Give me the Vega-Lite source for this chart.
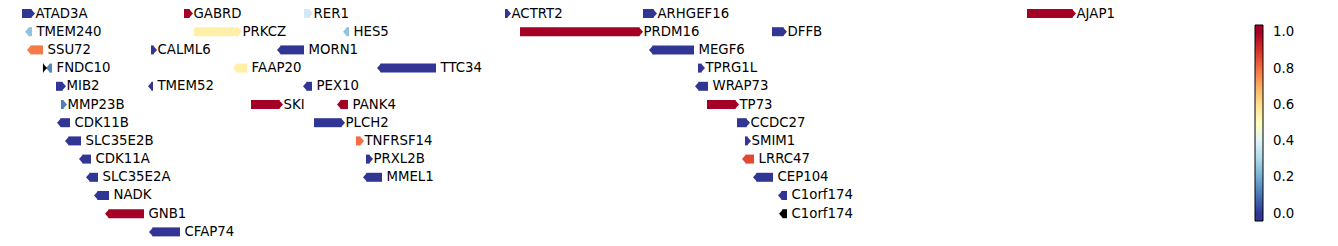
{
  "$schema": "https://vega.github.io/schema/vega-lite/v6.json",
  "width": 1338,
  "height": 246,
  "padding": 0,
  "autosize": {"type": "none"},
  "background": "white",
  "config": {"view": {"stroke": null}, "font": "DejaVu Sans"},
  "data": {
    "values": [
      {"name": "ATAD3A", "start": 22, "end": 35, "strand": "+", "row": 0, "v": 0},
      {"name": "GABRD", "start": 184, "end": 193, "strand": "+", "row": 0, "v": 1.0},
      {"name": "RER1", "start": 304, "end": 313, "strand": "+", "row": 0, "v": 0.37},
      {"name": "ACTRT2", "start": 505, "end": 511, "strand": "+", "row": 0, "v": 0},
      {"name": "ARHGEF16", "start": 643, "end": 657, "strand": "+", "row": 0, "v": 0},
      {"name": "AJAP1", "start": 1027, "end": 1076, "strand": "+", "row": 0, "v": 1.0},
      {"name": "TMEM240", "start": 25, "end": 32, "strand": "-", "row": 1, "v": 0.25},
      {"name": "PRKCZ", "start": 194, "end": 242, "strand": "+", "row": 1, "v": 0.55},
      {"name": "HES5", "start": 343, "end": 349, "strand": "-", "row": 1, "v": 0.25},
      {"name": "PRDM16", "start": 520, "end": 643, "strand": "+", "row": 1, "v": 1.0},
      {"name": "DFFB", "start": 772, "end": 787, "strand": "+", "row": 1, "v": 0},
      {"name": "SSU72", "start": 27, "end": 43, "strand": "-", "row": 2, "v": 0.78},
      {"name": "CALML6", "start": 151, "end": 157, "strand": "+", "row": 2, "v": 0},
      {"name": "MORN1", "start": 277, "end": 304, "strand": "-", "row": 2, "v": 0},
      {"name": "MEGF6", "start": 649, "end": 694, "strand": "-", "row": 2, "v": 0},
      {"name": null, "start": 43, "end": 47, "strand": "+", "row": 3, "v": null},
      {"name": "FNDC10", "start": 46, "end": 52, "strand": "-", "row": 3, "v": 0.13},
      {"name": "FAAP20", "start": 233, "end": 247, "strand": "-", "row": 3, "v": 0.55},
      {"name": "TTC34", "start": 377, "end": 436, "strand": "-", "row": 3, "v": 0},
      {"name": "TPRG1L", "start": 698, "end": 705, "strand": "+", "row": 3, "v": 0},
      {"name": "MIB2", "start": 56, "end": 66, "strand": "+", "row": 4, "v": 0},
      {"name": "TMEM52", "start": 148, "end": 153, "strand": "-", "row": 4, "v": 0},
      {"name": "PEX10", "start": 303, "end": 312, "strand": "-", "row": 4, "v": 0},
      {"name": "WRAP73", "start": 695, "end": 708, "strand": "-", "row": 4, "v": 0},
      {"name": "MMP23B", "start": 61, "end": 67, "strand": "+", "row": 5, "v": 0.12},
      {"name": "SKI", "start": 251, "end": 283, "strand": "+", "row": 5, "v": 1.0},
      {"name": "PANK4", "start": 337, "end": 348, "strand": "-", "row": 5, "v": 1.0},
      {"name": "TP73", "start": 707, "end": 739, "strand": "+", "row": 5, "v": 1.0},
      {"name": "CDK11B", "start": 57, "end": 70, "strand": "-", "row": 6, "v": 0},
      {"name": "PLCH2", "start": 314, "end": 345, "strand": "+", "row": 6, "v": 0},
      {"name": "CCDC27", "start": 737, "end": 750, "strand": "+", "row": 6, "v": 0},
      {"name": "SLC35E2B", "start": 65, "end": 81, "strand": "-", "row": 7, "v": 0},
      {"name": "TNFRSF14", "start": 356, "end": 364, "strand": "+", "row": 7, "v": 0.8},
      {"name": "SMIM1", "start": 745, "end": 751, "strand": "+", "row": 7, "v": 0},
      {"name": "CDK11A", "start": 79, "end": 91, "strand": "-", "row": 8, "v": 0},
      {"name": "PRXL2B", "start": 366, "end": 373, "strand": "+", "row": 8, "v": 0},
      {"name": "LRRC47", "start": 742, "end": 754, "strand": "-", "row": 8, "v": 0.86},
      {"name": "SLC35E2A", "start": 86, "end": 98, "strand": "-", "row": 9, "v": 0},
      {"name": "MMEL1", "start": 363, "end": 382, "strand": "-", "row": 9, "v": 0},
      {"name": "CEP104", "start": 753, "end": 773, "strand": "-", "row": 9, "v": 0},
      {"name": "NADK", "start": 94, "end": 109, "strand": "-", "row": 10, "v": 0},
      {"name": "C1orf174", "start": 778, "end": 787, "strand": "-", "row": 10, "v": 0},
      {"name": "GNB1", "start": 105, "end": 144, "strand": "-", "row": 11, "v": 1.0},
      {"name": "C1orf174", "start": 779, "end": 787, "strand": "-", "row": 11, "v": null},
      {"name": "CFAP74", "start": 149, "end": 180, "strand": "-", "row": 12, "v": 0}
    ]
  },
  "encoding": {
    "y": {"field": "row", "type": "quantitative", "scale": {"domain": [-0.742, 12.775], "reverse": true, "nice": false, "zero": false, "padding": 0}, "axis": null}
  },
  "layer": [
    {
      "transform": [{"filter": "datum.strand === '+' && datum.v != null"}],
      "mark": {"type": "bar", "x2Offset": -3.5, "size": 9, "orient": "horizontal"},
      "encoding": {
        "x": {"field": "start", "type": "quantitative", "scale": {"domain": [0, 1338], "nice": false, "zero": false, "padding": 0}, "axis": null},
        "x2": {"field": "end"},
        "color": {
          "field": "v",
          "type": "quantitative",
          "scale": {
            "domain": [-0.04, 0, 0.1, 0.2, 0.3, 0.4, 0.5, 0.6, 0.7, 0.8, 0.9, 1.0, 1.04],
            "range": ["#313695", "#313695", "#4575b4", "#74add1", "#abd9e9", "#e0f3f8", "#ffffbf", "#fee090", "#fdae61", "#f46d43", "#d73027", "#a50026", "#a50026"],
            "interpolate": "rgb",
            "clamp": true
          },
          "legend": {
            "type": "gradient",
            "orient": "none",
            "legendX": 1255,
            "legendY": 25,
            "padding": 0,
            "title": null,
            "direction": "vertical",
            "gradientLength": 196,
            "gradientThickness": 8,
            "gradientStrokeColor": "black",
            "gradientStrokeWidth": 1,
            "values": [0, 0.2, 0.4, 0.6, 0.8, 1.0],
            "format": ".1f",
            "labelFontSize": 13.3,
            "labelColor": "black",
            "labelFont": "DejaVu Sans",
            "labelOffset": 10,
            "labelOverlap": false
          }
        }
      }
    },
    {
      "transform": [{"filter": "datum.strand === '-' && datum.v != null"}],
      "mark": {"type": "bar", "xOffset": 3.5, "size": 9, "orient": "horizontal"},
      "encoding": {
        "x": {"field": "start", "type": "quantitative", "scale": {"domain": [0, 1338], "nice": false, "zero": false, "padding": 0}, "axis": null},
        "x2": {"field": "end"},
        "color": {"field": "v", "type": "quantitative"}
      }
    },
    {
      "transform": [{"filter": "datum.strand === '+' && datum.v != null"}],
      "mark": {"type": "point", "shape": "M0,0L-0.9,-1L-0.9,1Z", "filled": true, "opacity": 1, "strokeWidth": 0, "size": 81},
      "encoding": {
        "x": {"field": "end", "type": "quantitative", "scale": {"domain": [0, 1338], "nice": false, "zero": false, "padding": 0}, "axis": null},
        "color": {"field": "v", "type": "quantitative"}
      }
    },
    {
      "transform": [{"filter": "datum.strand === '-' && datum.v != null"}],
      "mark": {"type": "point", "shape": "M0,0L0.9,-1L0.9,1Z", "filled": true, "opacity": 1, "strokeWidth": 0, "size": 81},
      "encoding": {
        "x": {"field": "start", "type": "quantitative", "scale": {"domain": [0, 1338], "nice": false, "zero": false, "padding": 0}, "axis": null},
        "color": {"field": "v", "type": "quantitative"}
      }
    },
    {
      "transform": [{"filter": "datum.strand === '+' && datum.v == null"}],
      "mark": {"type": "bar", "x2Offset": -3.5, "size": 9, "orient": "horizontal", "color": "black"},
      "encoding": {
        "x": {"field": "start", "type": "quantitative", "scale": {"domain": [0, 1338], "nice": false, "zero": false, "padding": 0}, "axis": null},
        "x2": {"field": "end"}
      }
    },
    {
      "transform": [{"filter": "datum.strand === '-' && datum.v == null"}],
      "mark": {"type": "bar", "xOffset": 3.5, "size": 9, "orient": "horizontal", "color": "black"},
      "encoding": {
        "x": {"field": "start", "type": "quantitative", "scale": {"domain": [0, 1338], "nice": false, "zero": false, "padding": 0}, "axis": null},
        "x2": {"field": "end"}
      }
    },
    {
      "transform": [{"filter": "datum.strand === '+' && datum.v == null"}],
      "mark": {"type": "point", "shape": "M0,0L-0.9,-1L-0.9,1Z", "filled": true, "opacity": 1, "strokeWidth": 0, "size": 81, "color": "black"},
      "encoding": {
        "x": {"field": "end", "type": "quantitative", "scale": {"domain": [0, 1338], "nice": false, "zero": false, "padding": 0}, "axis": null}
      }
    },
    {
      "transform": [{"filter": "datum.strand === '-' && datum.v == null"}],
      "mark": {"type": "point", "shape": "M0,0L0.9,-1L0.9,1Z", "filled": true, "opacity": 1, "strokeWidth": 0, "size": 81, "color": "black"},
      "encoding": {
        "x": {"field": "start", "type": "quantitative", "scale": {"domain": [0, 1338], "nice": false, "zero": false, "padding": 0}, "axis": null}
      }
    },
    {
      "transform": [{"filter": "datum.strand === '+' && datum.name != null"}],
      "mark": {"type": "text", "align": "left", "baseline": "middle", "dx": 0.5, "fontSize": 13.3, "font": "DejaVu Sans", "color": "black"},
      "encoding": {
        "x": {"field": "end", "type": "quantitative", "scale": {"domain": [0, 1338], "nice": false, "zero": false, "padding": 0}, "axis": null},
        "text": {"field": "name"}
      }
    },
    {
      "transform": [{"filter": "datum.strand === '-' && datum.name != null"}],
      "mark": {"type": "text", "align": "left", "baseline": "middle", "dx": 4.5, "fontSize": 13.3, "font": "DejaVu Sans", "color": "black"},
      "encoding": {
        "x": {"field": "end", "type": "quantitative", "scale": {"domain": [0, 1338], "nice": false, "zero": false, "padding": 0}, "axis": null},
        "text": {"field": "name"}
      }
    }
  ]
}
